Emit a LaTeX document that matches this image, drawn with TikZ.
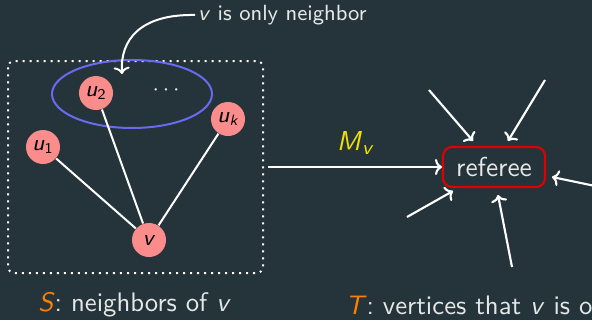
\documentclass[tikz,border=0pt]{standalone}
\usetikzlibrary{arrows.meta}
\definecolor{bg}{HTML}{24343A}
\definecolor{salmon}{HTML}{FA8C8C}
\definecolor{ellblue}{HTML}{6A6AF0}
\definecolor{myorange}{HTML}{FF8000}
\definecolor{myyellow}{HTML}{F0E000}
\definecolor{boxred}{HTML}{E00000}
\definecolor{txt}{HTML}{E6E8E8}
\newcommand{\mi}[1]{\textit{#1}}
\begin{document}
\begin{tikzpicture}[x=0.4pt,y=-0.4pt,
  every node/.style={font=\sffamily},
  vert/.style={circle,fill=salmon,minimum size=13.6pt,inner sep=0pt,text=black,font=\sffamily\fontsize{9}{11}\selectfont},
  edge/.style={white,line width=0.8pt},
  tip/.style={-{To[length=2.8pt,width=6.4pt]}},
  arr/.style={white,line width=0.85pt,tip},
  lbl/.style={text=txt,font=\sffamily\fontsize{10.7}{13}\selectfont}]
\useasboundingbox (0,0) rectangle (592,320);
\fill[bg] (0,0) rectangle (592,320);
\clip (0,0) rectangle (592,320);
% dotted set S
\draw[white,line width=0.8pt,dotted,rounded corners=2.5pt] (8,61) rectangle (263,273);
\draw[ellblue,line width=0.8pt] (132,94) ellipse [x radius=80,y radius=34];
\node[vert] (u2) at (96,93) {\mi{u}\textsubscript{2}};
\node[vert] (uk) at (228,119) {\mi{u}\textsubscript{\itshape k}};
\node[vert] (u1) at (43,147) {\mi{u}\textsubscript{1}};
\node[vert] (v) at (149,240) {\mi{v}};
\node[text=txt,font=\sffamily\fontsize{9}{11}\selectfont] (dots) at (166,90) {$\cdots$};
\draw[edge] (u1) -- (v);
\draw[edge] (u2) -- (v);
\draw[edge] (uk) -- (v);
% annotation
\node[text=txt,anchor=west,font=\sffamily\fontsize{8.8}{11}\selectfont,inner sep=1pt] (note) at (195,15) {\mi{v} is only neighbor};
\coordinate (tp) at (122,74);
\draw[white,line width=0.8pt,tip] (note.west) .. controls (140,14) and (120,40) .. (tp);
% referee
\node[draw=boxred,line width=0.85pt,rounded corners=3.6pt,minimum width=40.8pt,minimum height=16pt,inner sep=0pt,text=txt,font=\sffamily\fontsize{10.95}{13}\selectfont] (ref) at (494,167) {referee};
\coordinate (s) at (268,167);
\draw[arr] (s) -- (ref.west) node[midway,above=1.2pt,text=myyellow,font=\sffamily\fontsize{10.95}{13}\selectfont] (mv) {\mi{M}\textsubscript{\itshape v}};
\coordinate (a1) at (429,90);
\coordinate (a2) at (545,80);
\coordinate (a3) at (600,187);
\coordinate (a4) at (407,217);
\coordinate (a5) at (512,267);
\draw[arr] (a1) -- (473,141);
\draw[arr] (a2) -- (508,141);
\draw[arr] (a3) -- (552,177);
\draw[arr] (a4) -- (453,191);
\draw[arr] (a5) -- (498,195);
% labels
\node[lbl,anchor=west,inner sep=0pt] (sl) at (38,305) {\textcolor{myorange}{\mi{S}}: neighbors of \mi{v}};
\node[lbl,anchor=west,inner sep=0pt] (tl) at (345,305) {\textcolor{myorange}{\mi{T}}: vertices that \mi{v} is o};
\end{tikzpicture}
\end{document}
